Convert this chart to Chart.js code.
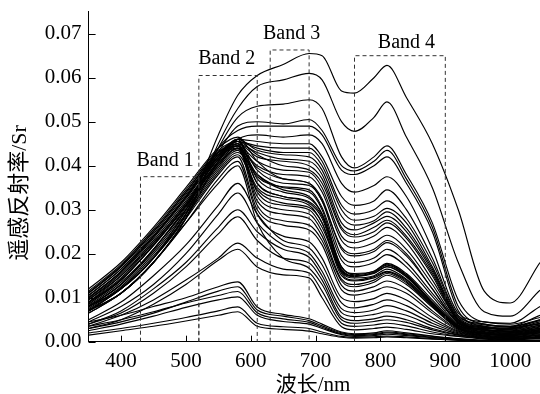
<!DOCTYPE html>
<html>
<head>
<meta charset="utf-8">
<script src="https://cdn.jsdelivr.net/npm/chart.js@4.4.0/dist/chart.umd.min.js"></script>
<style>
  html, body { margin: 0; padding: 0; background: #fff; }
  #wrap { width: 540px; height: 394px; }
</style>
</head>
<body>
<div id="wrap"><canvas id="chart"></canvas></div>
<script>
const wavelengths = [350, 400, 450, 500, 550, 580, 610, 650, 690, 710, 740, 760, 790, 810, 840, 880, 920, 960, 1000, 1046];
const xTickValues = [400, 500, 600, 700, 800, 900, 1000];
const yTickValues = [0, 0.01, 0.02, 0.03, 0.04, 0.05, 0.06, 0.07];

// the two brightest spectra
const highCurves = [
  [0.007, 0.012, 0.019, 0.029, 0.047, 0.056, 0.0605, 0.063, 0.0655, 0.065, 0.057, 0.0565, 0.060, 0.0628, 0.0555, 0.045, 0.030, 0.0115, 0.0088, 0.018],
  [0.007, 0.011, 0.018, 0.028, 0.045, 0.053, 0.058, 0.0595, 0.061, 0.0595, 0.050, 0.0478, 0.051, 0.0545, 0.0465, 0.035, 0.018, 0.0068, 0.0058, 0.0117]
];

const midCurves = [
  [0.007, 0.011, 0.018, 0.028, 0.044, 0.051, 0.0535, 0.054, 0.055, 0.053, 0.042, 0.0395, 0.042, 0.0445, 0.038, 0.027, 0.0095, 0.0045, 0.0042, 0.008],
  [0.008, 0.012, 0.019, 0.029, 0.043, 0.049, 0.050, 0.0495, 0.0505, 0.048, 0.040, 0.0388, 0.041, 0.0435, 0.037, 0.026, 0.008, 0.004, 0.0035, 0.006],
  [0.008, 0.012, 0.019, 0.030, 0.044, 0.048, 0.049, 0.049, 0.049, 0.047, 0.039, 0.038, 0.040, 0.042, 0.036, 0.025, 0.007, 0.0035, 0.003, 0.005]
];

// dense group peaking near 580 nm
const bundleCurves = [
  [0.007, 0.011, 0.018, 0.028, 0.041, 0.046, 0.047, 0.0465, 0.047, 0.045, 0.036, 0.034, 0.0355, 0.0375, 0.033, 0.021, 0.0065, 0.0045, 0.004, 0.0055],
  [0.009, 0.014, 0.022, 0.031, 0.042, 0.046, 0.0455, 0.045, 0.045, 0.042, 0.033, 0.031, 0.032, 0.0345, 0.030, 0.019, 0.006, 0.004, 0.0035, 0.005],
  [0.010, 0.016, 0.024, 0.033, 0.043, 0.0455, 0.044, 0.043, 0.043, 0.040, 0.030, 0.0276, 0.0285, 0.0303, 0.027, 0.017, 0.0055, 0.0035, 0.003, 0.0045],
  [0.011, 0.017, 0.025, 0.034, 0.043, 0.045, 0.043, 0.0415, 0.041, 0.038, 0.027, 0.0254, 0.027, 0.0285, 0.025, 0.016, 0.005, 0.003, 0.0032, 0.004],
  [0.0085, 0.014, 0.022, 0.031, 0.041, 0.045, 0.042, 0.041, 0.040, 0.037, 0.026, 0.0243, 0.026, 0.0276, 0.024, 0.0155, 0.0048, 0.0032, 0.0028, 0.0038],
  [0.008, 0.013, 0.021, 0.030, 0.040, 0.044, 0.040, 0.038, 0.0375, 0.034, 0.023, 0.0213, 0.0225, 0.0242, 0.021, 0.013, 0.0045, 0.0028, 0.0025, 0.0035],
  [0.012, 0.018, 0.026, 0.035, 0.044, 0.0465, 0.041, 0.037, 0.036, 0.032, 0.0215, 0.020, 0.021, 0.023, 0.020, 0.012, 0.0042, 0.0026, 0.0022, 0.003],
  [0.0075, 0.0125, 0.020, 0.029, 0.039, 0.043, 0.038, 0.035, 0.034, 0.030, 0.017, 0.0155, 0.016, 0.0178, 0.0155, 0.0095, 0.0038, 0.0025, 0.002, 0.0028],
  [0.010, 0.016, 0.024, 0.033, 0.0425, 0.0455, 0.037, 0.034, 0.0326, 0.029, 0.0165, 0.015, 0.0158, 0.0174, 0.015, 0.009, 0.0036, 0.0022, 0.0018, 0.0026],
  [0.009, 0.015, 0.023, 0.032, 0.0415, 0.046, 0.036, 0.033, 0.0315, 0.028, 0.016, 0.0148, 0.0155, 0.017, 0.0148, 0.0088, 0.0034, 0.002, 0.0016, 0.0024],
  [0.0085, 0.014, 0.022, 0.031, 0.041, 0.045, 0.034, 0.031, 0.030, 0.026, 0.0158, 0.0145, 0.015, 0.0165, 0.0142, 0.0085, 0.0032, 0.0018, 0.0015, 0.0022],
  [0.011, 0.017, 0.025, 0.034, 0.043, 0.045, 0.032, 0.029, 0.028, 0.024, 0.0138, 0.0125, 0.0135, 0.0151, 0.013, 0.0078, 0.003, 0.0017, 0.0014, 0.002],
  [0.008, 0.013, 0.021, 0.030, 0.040, 0.044, 0.031, 0.0275, 0.0265, 0.023, 0.0128, 0.0115, 0.0125, 0.0138, 0.012, 0.007, 0.0028, 0.0015, 0.0012, 0.0018],
  [0.007, 0.012, 0.019, 0.028, 0.038, 0.042, 0.030, 0.0265, 0.0254, 0.022, 0.0118, 0.0106, 0.0115, 0.0125, 0.011, 0.0065, 0.0026, 0.0014, 0.0011, 0.0016],
  [0.0065, 0.011, 0.018, 0.027, 0.037, 0.041, 0.029, 0.024, 0.0227, 0.019, 0.010, 0.0091, 0.0098, 0.011, 0.0095, 0.0055, 0.0024, 0.0013, 0.001, 0.0015],
  [0.005, 0.009, 0.015, 0.022, 0.031, 0.036, 0.029, 0.023, 0.0213, 0.0175, 0.0088, 0.0077, 0.0085, 0.0095, 0.0082, 0.0048, 0.0022, 0.0012, 0.0009, 0.0014],
  [0.0045, 0.008, 0.013, 0.020, 0.029, 0.0338, 0.027, 0.022, 0.0201, 0.016, 0.0075, 0.0066, 0.0072, 0.0082, 0.007, 0.0042, 0.002, 0.0011, 0.0008, 0.0012],
  [0.004, 0.007, 0.012, 0.018, 0.026, 0.030, 0.025, 0.021, 0.0192, 0.015, 0.0066, 0.0057, 0.0062, 0.0068, 0.006, 0.0036, 0.0018, 0.001, 0.0007, 0.0011],
  [0.004, 0.0065, 0.011, 0.017, 0.0245, 0.0284, 0.023, 0.019, 0.0179, 0.014, 0.0056, 0.0048, 0.0052, 0.0058, 0.005, 0.003, 0.0016, 0.0009, 0.0006, 0.001],
  [0.0065, 0.011, 0.018, 0.027, 0.036, 0.040, 0.027, 0.019, 0.0167, 0.013, 0.005, 0.0042, 0.0046, 0.005, 0.0044, 0.0027, 0.0015, 0.0008, 0.0006, 0.0009],
  [0.0035, 0.006, 0.0095, 0.014, 0.019, 0.0224, 0.019, 0.0165, 0.0156, 0.0115, 0.0042, 0.0035, 0.0038, 0.0042, 0.0036, 0.0022, 0.0013, 0.0007, 0.0005, 0.0008],
  [0.003, 0.005, 0.0085, 0.013, 0.0185, 0.021, 0.017, 0.0152, 0.0145, 0.010, 0.0034, 0.0027, 0.003, 0.0033, 0.0028, 0.0018, 0.0012, 0.0006, 0.0004, 0.0007],
  [0.0095, 0.0155, 0.0235, 0.0325, 0.042, 0.0455, 0.039, 0.036, 0.0355, 0.032, 0.0195, 0.018, 0.019, 0.021, 0.018, 0.011, 0.0044, 0.0027, 0.0024, 0.0033],
  [0.0105, 0.0165, 0.0245, 0.0335, 0.0425, 0.0445, 0.041, 0.039, 0.0385, 0.035, 0.024, 0.0225, 0.024, 0.026, 0.0225, 0.014, 0.005, 0.0033, 0.0029, 0.0042],
  [0.0078, 0.013, 0.0205, 0.0295, 0.0395, 0.0435, 0.035, 0.0325, 0.031, 0.027, 0.0155, 0.014, 0.0148, 0.016, 0.014, 0.0083, 0.0035, 0.0021, 0.0017, 0.0025],
  [0.0115, 0.0175, 0.0255, 0.0345, 0.0435, 0.0455, 0.0445, 0.044, 0.044, 0.041, 0.031, 0.029, 0.030, 0.032, 0.028, 0.018, 0.0058, 0.0038, 0.0034, 0.0048],
  [0.0095, 0.015, 0.0225, 0.0315, 0.0415, 0.0445, 0.038, 0.0345, 0.033, 0.029, 0.017, 0.0152, 0.016, 0.0176, 0.0152, 0.009, 0.0037, 0.0023, 0.0019, 0.0027],
  [0.0105, 0.0165, 0.024, 0.033, 0.042, 0.044, 0.0395, 0.037, 0.036, 0.0325, 0.021, 0.0195, 0.0205, 0.0225, 0.0195, 0.012, 0.0043, 0.0028, 0.0023, 0.0031],
  [0.009, 0.0145, 0.0225, 0.0315, 0.0415, 0.0455, 0.0425, 0.040, 0.039, 0.036, 0.0255, 0.0238, 0.025, 0.027, 0.0235, 0.015, 0.0047, 0.0031, 0.0027, 0.0037],
  [0.0082, 0.0135, 0.021, 0.0305, 0.0405, 0.0445, 0.036, 0.033, 0.0318, 0.0285, 0.0162, 0.0149, 0.0156, 0.0171, 0.0147, 0.0087, 0.0033, 0.0019, 0.0015, 0.0023],
  [0.0112, 0.0172, 0.025, 0.034, 0.043, 0.0445, 0.033, 0.030, 0.029, 0.025, 0.0142, 0.013, 0.014, 0.0155, 0.0134, 0.008, 0.003, 0.0017, 0.0014, 0.002],
  [0.0072, 0.0122, 0.0195, 0.0285, 0.0385, 0.0425, 0.0345, 0.0315, 0.0305, 0.027, 0.015, 0.0138, 0.0145, 0.0158, 0.0137, 0.0082, 0.0031, 0.0018, 0.0014, 0.0021],
  [0.0098, 0.0158, 0.0238, 0.0328, 0.0422, 0.046, 0.0435, 0.0425, 0.042, 0.039, 0.0285, 0.0265, 0.0275, 0.0295, 0.0258, 0.0165, 0.0052, 0.0034, 0.003, 0.0042],
  [0.0088, 0.0142, 0.0218, 0.0308, 0.0405, 0.0438, 0.0375, 0.0352, 0.0345, 0.0305, 0.0185, 0.017, 0.018, 0.0198, 0.017, 0.0103, 0.004, 0.0026, 0.0021, 0.003]
];

// dark spectra near the bottom
const lowCurves = [
  [0.0045, 0.006, 0.008, 0.010, 0.0125, 0.0136, 0.0079, 0.0062, 0.0052, 0.004, 0.0022, 0.0018, 0.002, 0.0025, 0.002, 0.0013, 0.0007, 0.0003, 0.0002, 0.0003],
  [0.003, 0.0045, 0.0065, 0.009, 0.0115, 0.0125, 0.0072, 0.0058, 0.0048, 0.0036, 0.002, 0.0016, 0.0018, 0.0022, 0.0018, 0.0012, 0.0006, 0.0003, 0.0002, 0.0003],
  [0.0035, 0.005, 0.0068, 0.0088, 0.0105, 0.0114, 0.0066, 0.0052, 0.0044, 0.0033, 0.0018, 0.0014, 0.0016, 0.002, 0.0016, 0.001, 0.0005, 0.0002, 0.0002, 0.0003],
  [0.0025, 0.004, 0.0058, 0.0078, 0.0095, 0.0102, 0.006, 0.0046, 0.004, 0.003, 0.0016, 0.0012, 0.0014, 0.0017, 0.0014, 0.0009, 0.0005, 0.0002, 0.0001, 0.0002],
  [0.002, 0.003, 0.0042, 0.0055, 0.007, 0.0079, 0.0042, 0.0034, 0.003, 0.0022, 0.0012, 0.001, 0.0011, 0.0013, 0.0011, 0.0007, 0.0004, 0.0002, 0.0001, 0.0002],
  [0.0015, 0.0025, 0.0035, 0.0047, 0.006, 0.0068, 0.0035, 0.0028, 0.0024, 0.0018, 0.001, 0.0008, 0.0009, 0.0011, 0.0009, 0.0006, 0.0003, 0.0001, 0.0001, 0.0001]
];

// dashed band boxes
const bandNames = ['Band 1', 'Band 2', 'Band 3', 'Band 4'];
const bandStart = [430, 520, 630, 760];
const bandEnd = [520, 610, 690, 900];
const bandTop = [0.0375, 0.0605, 0.0663, 0.065];
const bandLabelX = [468, 563, 663, 840];
const bandLabelY = [0.0411, 0.0642, 0.0701, 0.068];

const xTitle = '波长/nm';
const yTitle = '遥感反射率/Sr';

const serif = "'Liberation Serif', 'Times New Roman', 'Noto Sans CJK SC', serif";

const curveSets = [...highCurves, ...midCurves, ...bundleCurves, ...lowCurves].map(vals => ({
  data: vals.map((v, i) => ({ x: wavelengths[i], y: v })),
  borderColor: '#000',
  borderWidth: 1.15,
  pointRadius: 0,
  cubicInterpolationMode: 'monotone',
  fill: false
}));

const bandSets = bandStart.map((s, i) => ({
  data: [{ x: s, y: 0 }, { x: s, y: bandTop[i] }, { x: bandEnd[i], y: bandTop[i] }, { x: bandEnd[i], y: 0 }],
  borderColor: '#333',
  borderWidth: 1,
  borderDash: [4, 3],
  pointRadius: 0,
  tension: 0,
  fill: false
}));

const decor = {
  id: 'decor',
  afterDraw(chart) {
    const { ctx, chartArea } = chart;
    const x = chart.scales.x, y = chart.scales.y;
    ctx.save();
    ctx.strokeStyle = '#000';
    ctx.lineWidth = 1;
    // ticks point inward
    x.ticks.forEach(t => {
      const px = Math.round(x.getPixelForValue(t.value)) + 0.5;
      ctx.beginPath();
      ctx.moveTo(px, chartArea.bottom);
      ctx.lineTo(px, chartArea.bottom - 6);
      ctx.stroke();
    });
    y.ticks.forEach(t => {
      const py = Math.round(y.getPixelForValue(t.value)) + 0.5;
      ctx.beginPath();
      ctx.moveTo(chartArea.left, py);
      ctx.lineTo(chartArea.left + 7, py);
      ctx.stroke();
    });

    ctx.fillStyle = '#000';
    ctx.textAlign = 'center';
    ctx.textBaseline = 'middle';
    ctx.font = '20px ' + serif;
    bandNames.forEach((n, i) => {
      ctx.fillText(n, x.getPixelForValue(bandLabelX[i]), y.getPixelForValue(bandLabelY[i]));
    });

    ctx.font = '21px ' + serif;
    ctx.fillText(xTitle, 313, 385);
    ctx.translate(20.5, 193);
    ctx.rotate(-Math.PI / 2);
    ctx.font = '22px ' + serif;
    ctx.fillText(yTitle, 0, 0);
    ctx.restore();
  }
};

new Chart(document.getElementById('chart'), {
  type: 'line',
  data: { datasets: [...bandSets, ...curveSets] },
  options: {
    responsive: true,
    maintainAspectRatio: false,
    animation: false,
    layout: { padding: { top: 11.7, right: 0, left: 0, bottom: 0 } },
    plugins: { legend: { display: false }, tooltip: { enabled: false } },
    scales: {
      x: {
        type: 'linear',
        min: 350,
        max: 1046,
        afterBuildTicks: s => { s.ticks = xTickValues.map(v => ({ value: v })); },
        ticks: { autoSkip: false, maxRotation: 0, color: '#000', padding: 7, font: { family: serif, size: 21 }, callback: v => String(v) },
        grid: { drawOnChartArea: false, drawTicks: false },
        border: { color: '#000', width: 1 },
        afterFit: s => { s.height = 52.3; s.paddingLeft = 0; s.paddingRight = 0; }
      },
      y: {
        min: 0,
        max: 0.075,
        afterBuildTicks: s => { s.ticks = yTickValues.map(v => ({ value: v })); },
        ticks: { color: '#000', padding: 7, font: { family: serif, size: 21 }, callback: v => v.toFixed(2) },
        grid: { drawOnChartArea: false, drawTicks: false },
        border: { color: '#000', width: 1 },
        afterFit: s => { s.width = 88.6; s.paddingTop = 0; s.paddingBottom = 0; }
      }
    }
  },
  plugins: [decor]
});
</script>
</body>
</html>
